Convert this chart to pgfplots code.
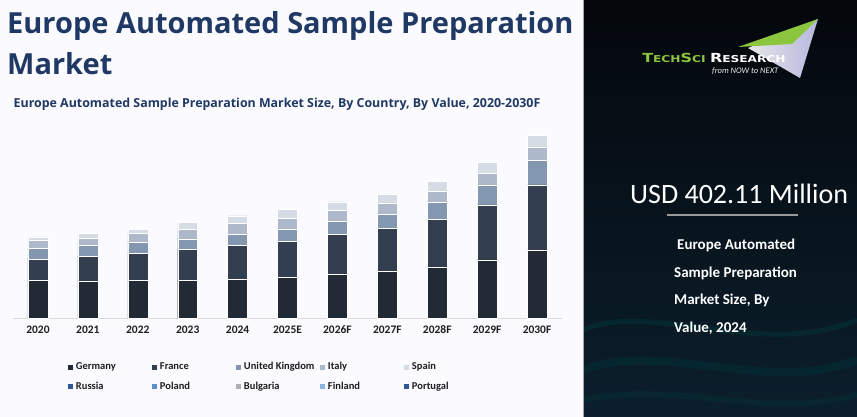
\documentclass[border=0pt]{standalone}
\usepackage{fontspec}
\setmainfont{Carlito}
\newfontfamily\opensans{Open Sans}
\newfontfamily\dejavu{DejaVu Sans}
\newfontfamily\carlitob{Carlito Bold}
\usepackage{pgfplots}
\usepackage{pgfplotstable}
\pgfplotsset{compat=1.18}
\definecolor{titleblue}{HTML}{1F3864}
\definecolor{tickgray}{HTML}{1E1E1E}
\definecolor{axisgray}{HTML}{D9D9D9}
\definecolor{cGer}{HTML}{222A35}
\definecolor{cFra}{HTML}{333F50}
\definecolor{cUK}{HTML}{8497B0}
\definecolor{cIta}{HTML}{ADB9CA}
\definecolor{cSpa}{HTML}{D6DCE5}
\definecolor{cRus}{HTML}{2F5597}
\definecolor{cPol}{HTML}{5B8FD5}
\definecolor{cBul}{HTML}{B0B0B0}
\definecolor{cFin}{HTML}{8DB3E2}
\definecolor{cPor}{HTML}{2F5597}
\definecolor{logogreen}{HTML}{8CC63F}
\definecolor{darktop}{HTML}{04070C}
\definecolor{darkbot}{HTML}{0B1F2C}
\pgfplotstableread{
x Ger Fra UK Ita Spa
0 150 82 43 31 13
1 147 96 42 30 18
2 150 105 42 35 18
3 150 119 42 39 25
4 154 133 44.5 39.5 31.1
5 161 141 49 41 34
6 172 157 51 43 34
7 183 171 56 43 35
8 202 187 68 42 39
9 229 216 78 46 42
10 268 255 97 52 44
}\datatable
\newcommand\LE[1]{\makebox[78.4pt][l]{\hspace{2.7pt}\color{tickgray}\fontseries{b}\fontsize{10.5}{12}\selectfont #1}}
\begin{document}
\begin{tikzpicture}
\useasboundingbox (0pt,0pt) rectangle (857pt,417pt);
\fill[white!98!blue] (0pt,0pt) rectangle (583pt,417pt);
\shade[top color=darktop, bottom color=darkbot] (583pt,0pt) rectangle (857pt,417pt);
\begin{scope}
\clip (583pt,0pt) rectangle (857pt,417pt);
\draw[color=teal!50!black, opacity=0.35, line width=5pt] (583pt,87pt) .. controls (650pt,117pt) and (760pt,57pt) .. (857pt,97pt);
\draw[color=teal!50!black, opacity=0.3, line width=8pt] (583pt,47pt) .. controls (660pt,77pt) and (770pt,22pt) .. (857pt,57pt);
\draw[color=teal!50!black, opacity=0.25, line width=6pt] (583pt,17pt) .. controls (680pt,37pt) and (760pt,-3pt) .. (857pt,22pt);
\end{scope}
\draw[color=gray!70] (583pt,0pt) -- (583pt,417pt);
% titles
\node[anchor=base west, inner sep=0, text=titleblue, font=\opensans\bfseries\fontsize{29}{29}\selectfont] at (7pt,383.7pt) {Europe Automated Sample Preparation};
\node[anchor=base west, inner sep=0, text=titleblue, font=\opensans\bfseries\fontsize{29}{29}\selectfont] at (7pt,342pt) {Market};
\node[anchor=base west, inner sep=0, text=titleblue, font=\opensans\bfseries\fontsize{12.4}{12.4}\selectfont] at (13.5pt,309.7pt) {Europe Automated Sample Preparation Market Size, By Country, By Value, 2020-2030F};
% logo
\shade[left color=gray!20, right color=gray!60!blue!40] (748pt,369pt) -- (818pt,398pt) -- (800pt,339pt) -- cycle;
\fill[logogreen] (818pt,398pt) -- (738pt,370pt) -- (792pt,373pt) -- cycle;
\node[anchor=base west, inner sep=0, xscale=1.28, font=\dejavu\bfseries] at (642pt,354.3pt) {\textcolor{logogreen}{\fontsize{12.5}{12.5}\selectfont T\fontsize{9.5}{9.5}\selectfont ECH\fontsize{12.5}{12.5}\selectfont S\fontsize{9.5}{9.5}\selectfont CI} \textcolor{white}{\fontsize{12.5}{12.5}\selectfont R\fontsize{9.5}{9.5}\selectfont ESEARCH}};
\node[anchor=base west, inner sep=0, text=white!85!gray, font=\itshape\fontsize{8.5}{8.5}\selectfont] at (712pt,343pt) {from NOW to NEXT};
% right panel text
\node[anchor=base west, inner sep=0, text=white, font=\fontsize{28}{28}\selectfont] at (630pt,213.7pt) {USD 402.11 Million};
\draw[color=gray!80, line width=1.2pt] (667pt,202pt) -- (798pt,202pt);
\node[anchor=base west, inner sep=0, text=white, font=\bfseries\fontsize{15}{15}\selectfont] at (677pt,167pt) {Europe Automated};
\node[anchor=base west, inner sep=0, text=white, font=\bfseries\fontsize{15}{15}\selectfont] at (674pt,139.5pt) {Sample Preparation};
\node[anchor=base west, inner sep=0, text=white, font=\bfseries\fontsize{15}{15}\selectfont] at (674pt,112pt) {Market Size, By};
\node[anchor=base west, inner sep=0, text=white, font=\bfseries\fontsize{15}{15}\selectfont] at (674pt,84.5pt) {Value, 2024};
\begin{axis}[
  at={(13pt,98.7pt)}, anchor=south west,
  scale only axis, width=549pt, height=191.3pt,
  xmin=-0.5, xmax=10.5, ymin=0, ymax=750,
  ybar stacked, bar width=0.4,
  axis y line=none, axis x line*=bottom,
  x axis line style={draw=axisgray, line width=0.8pt, -},
  xtick={0,...,10},
  xticklabels={2020,2021,2022,2023,2024,2025E,2026F,2027F,2028F,2029F,2030F},
  major tick length=0pt,
  xticklabel style={font=\bfseries\fontsize{11.5}{11.5}\selectfont, text=tickgray, yshift=-4pt},
  clip=false,
  legend columns=5,
  legend style={at={(axis description cs:0.0996,-0.2326)}, anchor=north west, draw=none, fill=none,
    inner sep=0pt, outer sep=0pt, column sep=0pt, row sep=10.4pt,
    text=tickgray,
    nodes={inner sep=0pt, text height=7pt, text depth=2pt}},
  legend image code/.code={\fill[#1,draw=none] (0pt,-2.5pt) rectangle (5.6pt,2.5pt);},
  every axis plot/.append style={draw=white, line width=0.4pt},
]
\addplot[fill=cGer] table[x=x,y=Ger] {\datatable}; \addlegendentry{\LE{Germany}}
\addplot[fill=cFra] table[x=x,y=Fra] {\datatable}; \addlegendentry{\LE{France}}
\addplot[fill=cUK] table[x=x,y=UK] {\datatable}; \addlegendentry{\LE{United Kingdom}}
\addplot[fill=cIta] table[x=x,y=Ita] {\datatable}; \addlegendentry{\LE{Italy}}
\addplot[fill=cSpa] table[x=x,y=Spa] {\datatable}; \addlegendentry{\LE{Spain}}
\addlegendimage{fill=cRus} \addlegendentry{\LE{Russia}}
\addlegendimage{fill=cPol} \addlegendentry{\LE{Poland}}
\addlegendimage{fill=cBul} \addlegendentry{\LE{Bulgaria}}
\addlegendimage{fill=cFin} \addlegendentry{\LE{Finland}}
\addlegendimage{fill=cPor} \addlegendentry{\LE{Portugal}}
\end{axis}
\end{tikzpicture}
\end{document}
